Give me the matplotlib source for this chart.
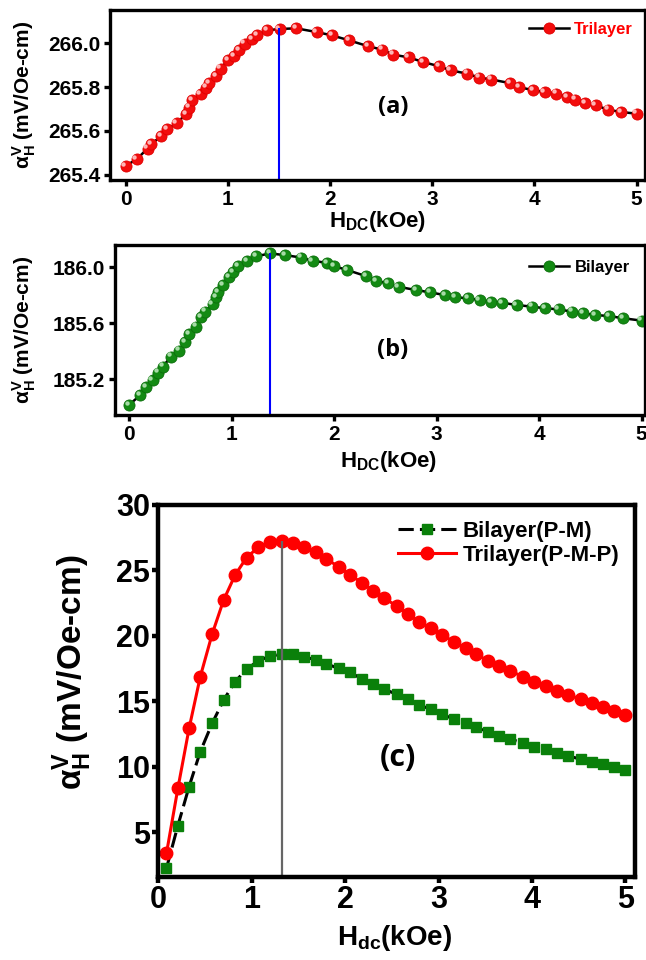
import numpy as np
import matplotlib.pyplot as plt
from matplotlib.transforms import ScaledTranslation

plt.rcParams['font.family'] = ['Liberation Sans', 'DejaVu Sans']
plt.rcParams['font.weight'] = 'bold'
plt.rcParams['mathtext.fontset'] = 'custom'
plt.rcParams['mathtext.rm'] = 'Liberation Sans'
plt.rcParams['mathtext.it'] = 'Liberation Sans:italic'
plt.rcParams['mathtext.bf'] = 'Liberation Sans:bold'

# (a) trilayer, H_DC sweep
h_a = [0.0, 0.108, 0.215, 0.248, 0.35, 0.41, 0.5, 0.59, 0.62, 0.65, 0.735, 0.79,
       0.82, 0.887, 0.93, 1.005, 1.06, 1.11, 1.165, 1.24, 1.29, 1.385, 1.508, 1.67,
       1.87, 2.02, 2.19, 2.37, 2.51, 2.62, 2.77, 2.91, 3.07, 3.18, 3.34, 3.46, 3.58,
       3.76, 3.85, 3.99, 4.10, 4.21, 4.32, 4.40, 4.50, 4.60, 4.72, 4.85, 5.0]
a_tri = [265.441, 265.471, 265.52, 265.54, 265.576, 265.609, 265.635, 265.676,
         265.706, 265.74, 265.767, 265.797, 265.818, 265.849, 265.884, 265.924,
         265.941, 265.967, 265.997, 266.017, 266.035, 266.058, 266.064, 266.067,
         266.05, 266.035, 266.012, 265.986, 265.97, 265.947, 265.935, 265.914,
         265.894, 265.876, 265.861, 265.843, 265.834, 265.818, 265.80, 265.785,
         265.777, 265.77, 265.755, 265.743, 265.727, 265.717, 265.697, 265.686,
         265.679]
peak_a = 1.5

# (b) bilayer
h_b = [0.0, 0.107, 0.163, 0.231, 0.28, 0.329, 0.41, 0.49, 0.546, 0.588, 0.654, 0.70,
       0.741, 0.816, 0.849, 0.87, 0.914, 0.979, 1.018, 1.066, 1.148, 1.239, 1.376,
       1.522, 1.678, 1.79, 1.93, 2.0, 2.13, 2.31, 2.41, 2.53, 2.63, 2.80, 2.94, 3.08,
       3.18, 3.31, 3.42, 3.53, 3.64, 3.78, 3.93, 4.06, 4.19, 4.32, 4.43, 4.55, 4.68,
       4.82, 5.0]
a_bi = [185.016, 185.083, 185.143, 185.195, 185.247, 185.29, 185.361, 185.404,
        185.464, 185.521, 185.576, 185.643, 185.683, 185.738, 185.79, 185.821,
        185.874, 185.933, 185.969, 186.009, 186.047, 186.08, 186.10, 186.088,
        186.071, 186.047, 186.033, 186.009, 185.981, 185.938, 185.902, 185.886,
        185.861, 185.838, 185.821, 185.802, 185.786, 185.779, 185.766, 185.754,
        185.747, 185.731, 185.719, 185.707, 185.70, 185.683, 185.671, 185.659,
        185.652, 185.636, 185.619]
peak_b = 1.376

# (c) comparison
h_c = [0.088, 0.21, 0.33, 0.45, 0.577, 0.70, 0.823, 0.945, 1.07, 1.195, 1.32, 1.438,
       1.56, 1.685, 1.80, 1.93, 2.05, 2.18, 2.30, 2.42, 2.55, 2.67, 2.79, 2.92, 3.04,
       3.16, 3.29, 3.40, 3.53, 3.65, 3.77, 3.90, 4.02, 4.15, 4.27, 4.39, 4.52, 4.64,
       4.76, 4.88, 5.0]
c_bi = [2.27, 5.52, 8.5, 11.17, 13.33, 15.11, 16.51, 17.46, 18.09, 18.47, 18.6, 18.6,
        18.42, 18.17, 17.86, 17.53, 17.23, 16.72, 16.31, 15.93, 15.55, 15.17, 14.73,
        14.4, 14.02, 13.66, 13.33, 13.03, 12.7, 12.37, 12.11, 11.85, 11.55, 11.35,
        11.05, 10.84, 10.59, 10.41, 10.21, 10.02, 9.77]
c_tri = [3.41, 8.37, 12.95, 16.9, 20.15, 22.75, 24.66, 25.98, 26.77, 27.2, 27.25,
         27.12, 26.77, 26.39, 25.87, 25.29, 24.66, 24.07, 23.44, 22.88, 22.29, 21.68,
         21.09, 20.59, 20.08, 19.57, 19.06, 18.6, 18.11, 17.71, 17.33, 16.89, 16.51,
         16.18, 15.82, 15.5, 15.17, 14.86, 14.56, 14.3, 13.97]
peak_c = 1.32

ylab = r'$\mathrm{\alpha}^{\mathrm{V}}_{\mathrm{H}}$ (mV/Oe-cm)'

fig = plt.figure(figsize=(6.46, 9.6), dpi=100)
shine = ScaledTranslation(-1.6 / 72, 1.6 / 72, fig.dpi_scale_trans)


def style(ax, lw, tsize, pad=2):
    for s in ax.spines.values():
        s.set_linewidth(lw)
    ax.tick_params(direction='out', width=lw, length=4, labelsize=tsize,
                   top=False, right=False, pad=pad)
    for t in ax.get_xticklabels() + ax.get_yticklabels():
        t.set_fontweight('bold')


# panel (a)
ax1 = fig.add_axes([0.170, 0.8125, 0.828, 0.177])
ax1.plot(h_a, a_tri, '-', color='k', lw=1.8, marker='o', ms=8, mfc='#f20d0d',
         mec='#e00000', mew=0.6, label='Trilayer')
ax1.plot(h_a, a_tri, 'o', ms=2.2, color='#ffc0c0', alpha=0.9,
         transform=ax1.transData + shine)
ax1.vlines(peak_a, 265.37, max(a_tri), color='#0000ff', lw=1.5)
ax1.set_xlim(-0.154, 5.08)
ax1.set_ylim(265.377, 266.15)
ax1.set_xticks([0, 1, 2, 3, 4, 5])
ax1.set_yticks([265.4, 265.6, 265.8, 266.0])
style(ax1, 2.4, 15, pad=3)
ax1.set_xlabel(r'H$_{\mathbf{DC}}$(kOe)', fontsize=16, fontweight='bold')
ax1.xaxis.set_label_coords(0.50, -0.17)
ax1.set_ylabel(ylab, fontsize=15, fontweight='bold')
ax1.yaxis.set_label_coords(-0.135, 0.5)
leg = ax1.legend(loc='upper right', frameon=False, fontsize=12, handlelength=2.4,
                 handletextpad=0.3, borderaxespad=0.3)
for t in leg.get_texts():
    t.set_color('#ff0000')
ax1.text(0.53, 0.43, '(a)', transform=ax1.transAxes, fontsize=17,
         fontweight='bold', family='Open Sans', ha='center', va='center')

# panel (b)
ax2 = fig.add_axes([0.178, 0.5677, 0.820, 0.177])
ax2.plot(h_b, a_bi, '-', color='k', lw=1.8, marker='o', ms=8, mfc='#138a13',
         mec='#0b6e0b', mew=0.6, label='Bilayer')
ax2.plot(h_b, a_bi, 'o', ms=2.2, color='#b0e0b0', alpha=0.9,
         transform=ax2.transData + shine)
ax2.vlines(peak_b, 184.9, max(a_bi), color='#0000ff', lw=1.5)
ax2.set_xlim(-0.137, 5.03)
ax2.set_ylim(184.943, 186.16)
ax2.set_xticks([0, 1, 2, 3, 4, 5])
ax2.set_yticks([185.2, 185.6, 186.0])
style(ax2, 2.4, 15, pad=3)
ax2.set_xlabel(r'H$_{\mathbf{DC}}$(kOe)', fontsize=16, fontweight='bold')
ax2.xaxis.set_label_coords(0.516, -0.20)
ax2.set_ylabel(ylab, fontsize=15, fontweight='bold')
ax2.yaxis.set_label_coords(-0.145, 0.5)
ax2.legend(loc='upper right', frameon=False, fontsize=12, handlelength=2.4,
           handletextpad=0.3, borderaxespad=0.5)
ax2.text(0.524, 0.38, '(b)', transform=ax2.transAxes, fontsize=17,
         fontweight='bold', family='Open Sans', ha='center', va='center')

# panel (c)
ax3 = fig.add_axes([0.245, 0.0865, 0.7376, 0.3875])
ax3.plot(h_c, c_bi, color='k', lw=2.2, ls=(0, (5, 2)), marker='s', ms=7,
         mfc='#0a800a', mec='#0a800a', label='Bilayer(P-M)')
ax3.plot(h_c, c_tri, color='#ff0000', lw=2.2, marker='o', ms=9,
         mfc='#ff0000', mec='#ff0000', label='Trilayer(P-M-P)')
ax3.vlines(peak_c, 0, max(c_tri), color='0.4', lw=1.6)
ax3.set_xlim(0, 5.1)
ax3.set_ylim(1.6, 30)
ax3.set_xticks([0, 1, 2, 3, 4, 5])
ax3.set_yticks([5, 10, 15, 20, 25, 30])
style(ax3, 3.2, 22)
ax3.set_xlabel(r'H$_{\mathbf{dc}}$(kOe)', fontsize=20, fontweight='bold')
ax3.xaxis.set_label_coords(0.496, -0.125)
ax3.set_ylabel(ylab, fontsize=24, fontweight='bold')
ax3.yaxis.set_label_coords(-0.135, 0.55)
ax3.legend(loc='upper right', frameon=False, fontsize=16, handlelength=2.6,
           handletextpad=0.3, labelspacing=0.15, borderaxespad=0.3)
ax3.text(0.503, 0.32, '(c)', transform=ax3.transAxes, fontsize=22,
         fontweight='bold', family='Open Sans', ha='center', va='center')

plt.savefig('out.png', dpi=100)
